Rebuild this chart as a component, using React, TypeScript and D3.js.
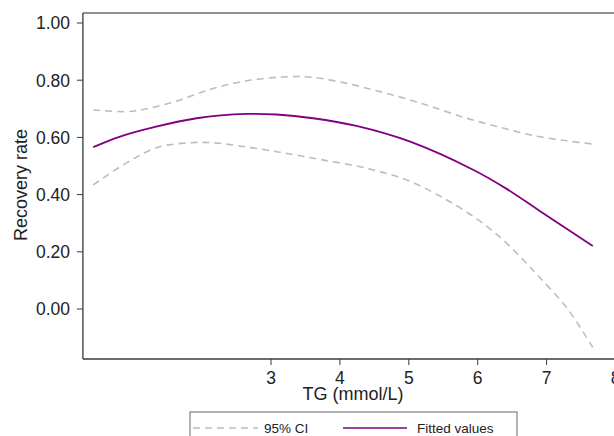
import React from "react";
import * as d3 from "d3";

const fitX = [0.42, 0.81, 1.29, 1.92, 2.65, 3.08, 3.61, 4.24, 5.02, 5.94, 6.42, 6.9, 7.67];
const fitY = [0.566, 0.603, 0.635, 0.667, 0.682, 0.68, 0.667, 0.64, 0.585, 0.486, 0.42, 0.343, 0.22];

const upX = [0.42, 0.91, 1.2, 1.68, 2.16, 2.65, 3.23, 3.61, 4.1, 4.58, 5.02, 5.36, 5.84, 6.32, 6.81, 7.29, 7.67];
const upY = [0.696, 0.69, 0.7, 0.731, 0.771, 0.798, 0.812, 0.81, 0.789, 0.76, 0.731, 0.705, 0.667, 0.636, 0.606, 0.588, 0.577];

const loX = [0.42, 0.91, 1.35, 1.75, 2.1, 2.55, 3.13, 3.71, 4.39, 4.97, 5.45, 5.94, 6.32, 6.66, 6.9, 7.29, 7.67];
const loY = [0.434, 0.512, 0.565, 0.58, 0.582, 0.57, 0.548, 0.523, 0.492, 0.451, 0.395, 0.323, 0.252, 0.172, 0.11, 0.005, -0.134];

const xTicks = [3, 4, 5, 6, 7, 8];
const yTicks = [0, 0.2, 0.4, 0.6, 0.8, 1.0];

const FONT = "'Liberation Sans', Arial, Helvetica, sans-serif";

export default function App() {
  const W = 614, H = 436;
  const x = d3.scaleLinear().domain([3, 8]).range([271, 615.5]);
  const y = d3.scaleLinear().domain([0, 1]).range([309, 23]);
  const left = x(0.27);
  const xMax = 8.2;
  const yTop = 1.035, yBot = -0.175;

  const line = d3.line<[number, number]>()
    .x(d => x(d[0]))
    .y(d => y(d[1]))
    .curve(d3.curveCatmullRom.alpha(0.5));

  const fit = line(fitX.map((v, i) => [v, fitY[i]]));
  const up = line(upX.map((v, i) => [v, upY[i]]));
  const lo = line(loX.map((v, i) => [v, loY[i]]));

  const axisColor = "#3a3a3a";
  const grey = "#bdbdbd";
  const purple = "#800080";

  return (
    <svg width={W} height={H} style={{ position: "absolute", left: 0, top: 0, background: "#fff" }} fontFamily={FONT}>
      <rect x={0} y={0} width={W} height={H} fill="#fff" />
      <line x1={left} x2={x(xMax)} y1={y(yTop)} y2={y(yTop)} stroke="#6a6a6a" strokeWidth={1.3} />
      <line x1={left} x2={left} y1={y(yTop)} y2={y(yBot)} stroke={axisColor} strokeWidth={1.3} />
      <line x1={left} x2={x(xMax)} y1={y(yBot)} y2={y(yBot)} stroke={axisColor} strokeWidth={1.5} />

      {yTicks.map(t => (
        <g key={"y" + t}>
          <line x1={left - 6} x2={left} y1={y(t)} y2={y(t)} stroke={axisColor} strokeWidth={1} />
          <text x={70} y={y(t)} dy="0.36em" textAnchor="end" fontSize={17.5} fill="#222">
            {t.toFixed(2)}
          </text>
        </g>
      ))}
      {xTicks.map(t => (
        <g key={"x" + t}>
          <line x1={x(t)} x2={x(t)} y1={y(yBot)} y2={y(yBot) + 6} stroke={axisColor} strokeWidth={1} />
          <text x={x(t)} y={383.5} textAnchor="middle" fontSize={17.5} fill="#222">
            {t}
          </text>
        </g>
      ))}

      <text x={353} y={400} textAnchor="middle" fontSize={18} fill="#222">TG (mmol/L)</text>
      <text transform="translate(27,185) rotate(-90)" textAnchor="middle" fontSize={18} fill="#222">Recovery rate</text>

      <path d={up ?? ""} fill="none" stroke={grey} strokeWidth={1.6} strokeDasharray="7,5" />
      <path d={lo ?? ""} fill="none" stroke={grey} strokeWidth={1.6} strokeDasharray="7,5" />
      <path d={fit ?? ""} fill="none" stroke={purple} strokeWidth={1.8} />

      <rect x={190} y={412} width={327} height={40} fill="#fff" stroke="#666" strokeWidth={1} />
      <line x1={193} x2={258} y1={428} y2={428} stroke={grey} strokeWidth={1.4} strokeDasharray="7,5" />
      <text x={264} y={432.5} fontSize={13.5} fill="#222">95% CI</text>
      <line x1={343} x2={407} y1={428} y2={428} stroke={purple} strokeWidth={1.6} />
      <text x={417} y={432.5} fontSize={13.5} fill="#222">Fitted values</text>
    </svg>
  );
}
